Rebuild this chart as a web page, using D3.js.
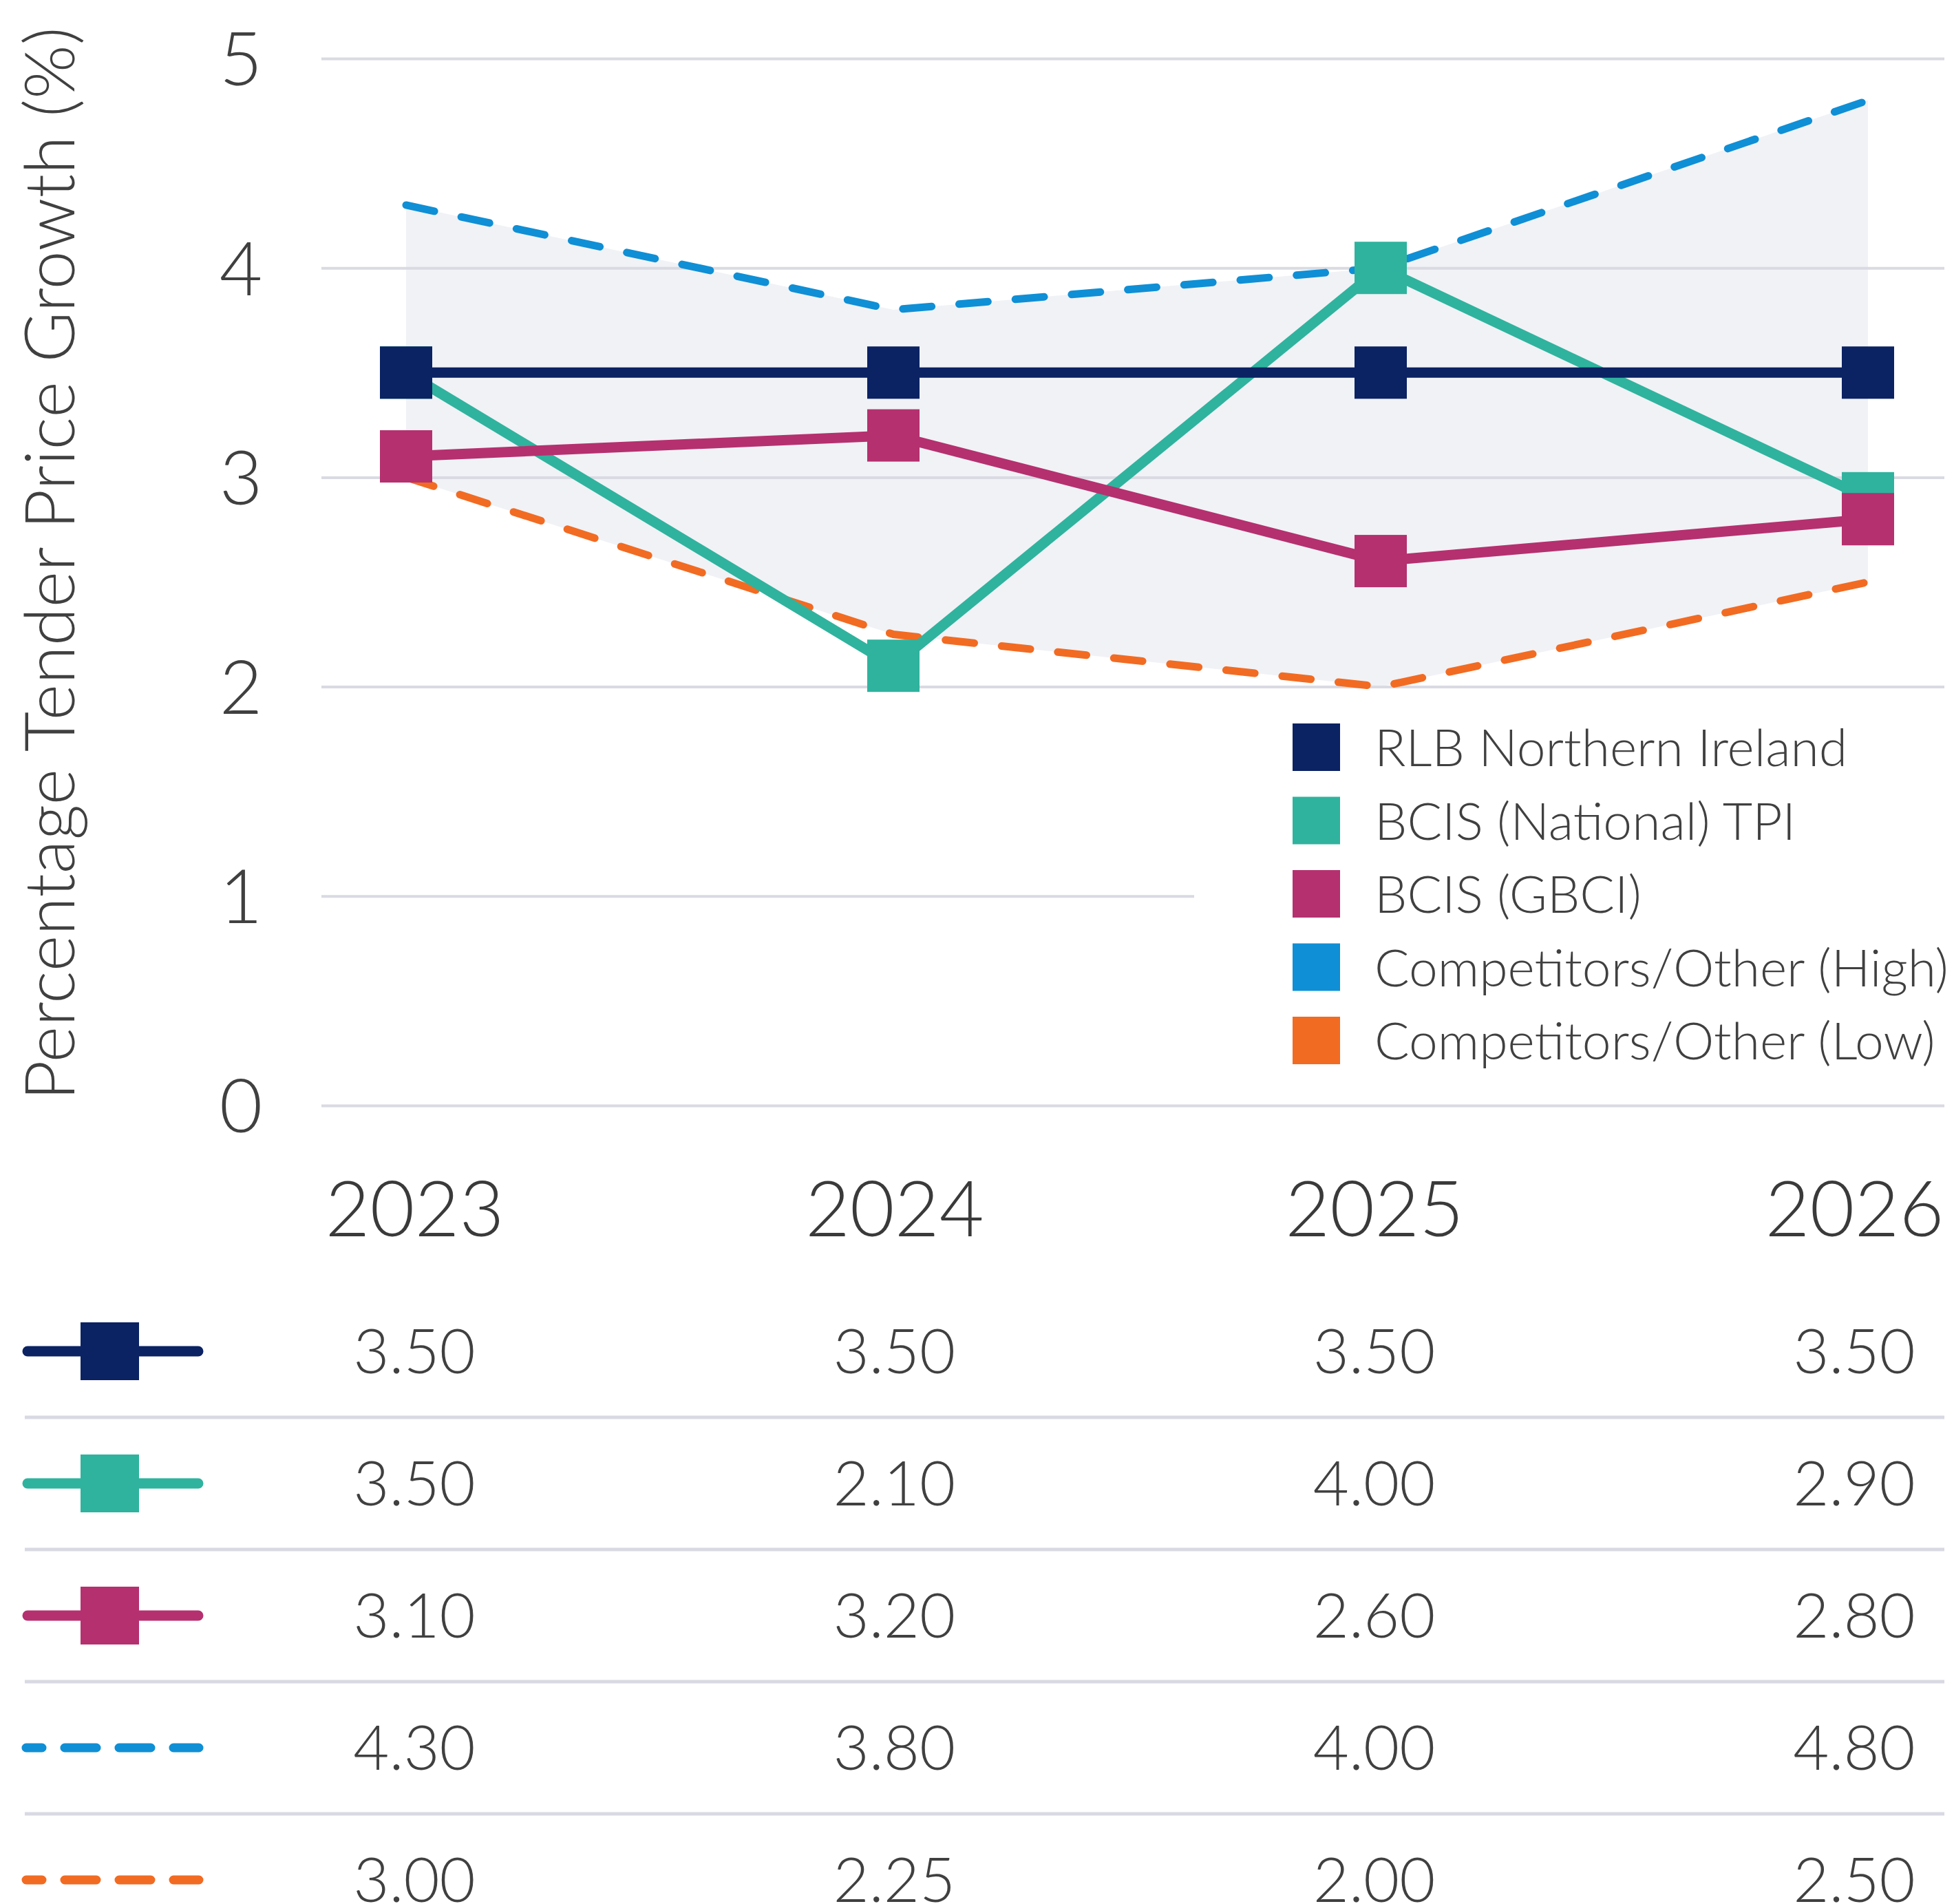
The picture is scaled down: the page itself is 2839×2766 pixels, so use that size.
<!DOCTYPE html>
<html lang="en">
<head>
	<meta charset="UTF-8">
	<title>Tender price growth</title>
	<script src="https://cdn.jsdelivr.net/npm/d3@7"></script>
	<style>
		body { margin: 0; background: #fff; }
		text { font-family: Lato, 'Open Sans', sans-serif; font-weight: 300; fill: #404040; }
	</style>
</head>
<body>
	<script>
	let years = ['2023', '2024', '2025', '2026']
	let rlb = [3.50, 3.50, 3.50, 3.50]
	let bcisTpi = [3.50, 2.10, 4.00, 2.90]
	let bcisGbci = [3.10, 3.20, 2.60, 2.80]
	let compHigh = [4.30, 3.80, 4.00, 4.80]
	let compLow = [3.00, 2.25, 2.00, 2.50]
	let seriesNames = ['RLB Northern Ireland', 'BCIS (National) TPI', 'BCIS (GBCI)',
		'Competitors/Other (High)', 'Competitors/Other (Low)']
	let yTicks = [0, 1, 2, 3, 4, 5]

	let width = 2839,
		height = 2766

	let series = [
		{ name: seriesNames[0], values: rlb, color: '#0b2263', dashed: false },
		{ name: seriesNames[1], values: bcisTpi, color: '#2fb39e', dashed: false },
		{ name: seriesNames[2], values: bcisGbci, color: '#b5306f', dashed: false },
		{ name: seriesNames[3], values: compHigh, color: '#0f8fd5', dashed: true },
		{ name: seriesNames[4], values: compLow, color: '#f26b22', dashed: true }
	]

	let svg = d3.select('body').append('svg')
		.attr('width', width)
		.attr('height', height)

	svg.append('rect')
		.attr('width', width)
		.attr('height', height)
		.attr('fill', '#fff')

	let x = d3.scalePoint().domain(years).range([590, 2714])
	let y = d3.scaleLinear().domain([0, 5]).range([1606, 85])
	let gridLeft = 467,
		gridRight = 2825

	// shaded band between high and low
	let band = d3.area()
		.x((d, i) => x(years[i]))
		.y0((d, i) => y(compLow[i]))
		.y1(d => y(d))
	svg.append('path')
		.datum(compHigh)
		.attr('d', band)
		.attr('fill', '#f0f2f6')

	// y axis: grid lines + labels
	let yAxis = d3.axisLeft(y)
		.tickValues(yTicks)
		.tickSize(-(gridRight - gridLeft))
		.tickFormat(d3.format('d'))
	let gy = svg.append('g')
		.attr('transform', `translate(${gridLeft},0)`)
		.call(yAxis)
	gy.select('.domain').remove()
	gy.selectAll('.tick line')
		.attr('stroke', '#d9dae2')
		.attr('stroke-width', 4)
	gy.selectAll('.tick text')
		.attr('x', -117)
		.attr('dy', '0.36em')
		.attr('text-anchor', 'middle')
		.style('font-size', '108px')

	svg.append('text')
		.attr('transform', 'translate(108,819) rotate(-90)')
		.attr('text-anchor', 'middle')
		.style('font-size', '101px')
		.text('Percentage Tender Price Growth (%)')

	// legend box sits over the lower grid
	svg.append('rect')
		.attr('x', 1735)
		.attr('y', 1030)
		.attr('width', width - 1735)
		.attr('height', 560)
		.attr('fill', '#fff')

	let line = d3.line()
		.x((d, i) => x(years[i]))
		.y(d => y(d))

	let order = [3, 4, 1, 2, 0]
	order.forEach(k => {
		let s = series[k]
		svg.append('path')
			.datum(s.values)
			.attr('d', line)
			.attr('fill', 'none')
			.attr('stroke', s.color)
			.attr('stroke-width', s.dashed ? 11 : 15)
			.attr('stroke-linecap', s.dashed ? 'round' : 'butt')
			.attr('stroke-dasharray', s.dashed ? '42 40' : null)
		if (!s.dashed) {
			svg.selectAll(null)
				.data(s.values)
				.enter()
				.append('rect')
				.attr('x', (d, i) => x(years[i]) - 38)
				.attr('y', d => y(d) - 38)
				.attr('width', 76)
				.attr('height', 76)
				.attr('fill', s.color)
		}
	})

	// legend
	let ly = d3.scalePoint().domain(seriesNames).range([1086, 1512])
	let legend = svg.selectAll('.legend')
		.data(series)
		.enter()
		.append('g')
		.attr('class', 'legend')
		.attr('transform', d => `translate(1878,${ly(d.name)})`)
	legend.append('rect')
		.attr('y', -35)
		.attr('width', 69)
		.attr('height', 69)
		.attr('fill', d => d.color)
	legend.append('text')
		.attr('x', 119)
		.attr('dy', '0.36em')
		.style('font-size', '75px')
		.text(d => d.name)

	// table underneath
	let xt = d3.scalePoint().domain(years).range([602, 2694])
	let xAxis = d3.axisBottom(xt).tickSize(0)
	let gx = svg.append('g')
		.attr('transform', 'translate(0,1756)')
		.call(xAxis)
	gx.select('.domain').remove()
	gx.selectAll('.tick text')
		.attr('y', 0)
		.attr('dy', '0.36em')
		.style('font-size', '112px')
		.style('fill', '#3a3a3a')

	let ry = d3.scalePoint().domain(seriesNames).range([1963, 2731])
	let rowStep = ry.step()

	svg.selectAll('.sep')
		.data(seriesNames.slice(0, 4))
		.enter()
		.append('line')
		.attr('class', 'sep')
		.attr('x1', 36)
		.attr('x2', 2825)
		.attr('y1', d => ry(d) + rowStep / 2)
		.attr('y2', d => ry(d) + rowStep / 2)
		.attr('stroke', '#d9d9e3')
		.attr('stroke-width', 5)

	let rows = svg.selectAll('.row')
		.data(series)
		.enter()
		.append('g')
		.attr('class', 'row')
		.attr('transform', d => `translate(0,${ry(d.name)})`)

	rows.append('line')
		.attr('x1', d => d.dashed ? 38 : 40)
		.attr('x2', d => d.dashed ? 289 : 288)
		.attr('stroke', d => d.color)
		.attr('stroke-width', d => d.dashed ? 13 : 15)
		.attr('stroke-linecap', 'round')
		.attr('stroke-dasharray', d => d.dashed ? '46 33' : null)
		.attr('stroke-dashoffset', d => d.dashed ? 23 : null)
	rows.filter(d => !d.dashed)
		.append('rect')
		.attr('x', 117)
		.attr('y', -42)
		.attr('width', 85)
		.attr('height', 84)
		.attr('fill', d => d.color)

	rows.selectAll('.val')
		.data(d => d.values)
		.enter()
		.append('text')
		.attr('class', 'val')
		.attr('x', (d, i) => xt(years[i]))
		.attr('dy', '0.36em')
		.attr('text-anchor', 'middle')
		.style('font-size', '90px')
		.text(d => d3.format('.2f')(d))
	</script>
</body>
</html>
